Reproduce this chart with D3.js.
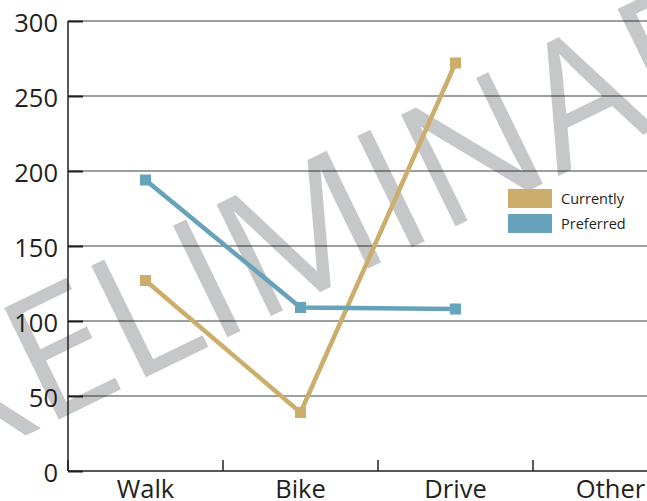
<!DOCTYPE html>
<html>
<head>
<meta charset="utf-8">
<script src="https://cdn.jsdelivr.net/npm/d3@7"></script>
<style>
  body { margin: 0; background: #fff; }
  text { font-family: "Open Sans", sans-serif; fill: #231f20; }
</style>
</head>
<body>
<svg id="chart" width="647" height="501"></svg>
<script>
const categories = ["Walk", "Bike", "Drive", "Other"];
const currently = [127, 39, 272];   // no value for Other
const preferred = [194, 109, 108];
const yTicks = [0, 50, 100, 150, 200, 250, 300];
const seriesNames = ["Currently", "Preferred"];
const seriesColors = ["#ccad6b", "#66a2b9"];
const watermark = "PRELIMINARY";

const drawChart = function (svg) {
    let width = +svg.attr("width");
    let margin = {top: 21, left: 68, bottom: 30};
    let bottom = 471;

    let xScale = d3.scaleBand()
        .domain(categories)
        .range([margin.left, margin.left + 620]);
    let yScale = d3.scaleLinear()
        .domain([0, 300])
        .range([bottom, margin.top]);

    // watermark sits under everything
    svg.append("text")
        .attr("transform", "translate(-147, 520) rotate(-26)")
        .style("font-size", "174px")
        .style("fill", "#c6c7c9")
        .text(watermark);

    // gridlines (semi-transparent so they darken over the watermark)
    yTicks.filter(t => t > 0).forEach(t => {
        svg.append("line")
            .attr("x1", margin.left).attr("x2", width)
            .attr("y1", yScale(t)).attr("y2", yScale(t))
            .style("stroke", "#000")
            .style("stroke-opacity", 0.5)
            .style("stroke-width", 1.5);
    });

    // y axis: ticks point inward, labels on the left
    let leftAxis = d3.axisRight(yScale)
        .tickValues(yTicks)
        .tickSize(15)
        .tickFormat("");
    svg.append("g")
        .attr("transform", `translate(${margin.left}, 0)`)
        .call(leftAxis)
        .call(g => g.select(".domain").remove())
        .call(g => g.selectAll("line").style("stroke", "#231f20").style("stroke-width", 2));

    svg.append("line")
        .attr("x1", margin.left).attr("x2", margin.left)
        .attr("y1", margin.top).attr("y2", bottom)
        .style("stroke", "#231f20").style("stroke-width", 1.5);

    yTicks.forEach(t => {
        svg.append("text")
            .attr("x", 58)
            .attr("y", yScale(t) + 11)
            .attr("text-anchor", "end")
            .style("font-size", "25.5px")
            .text(t);
    });

    // x axis: ticks at the band boundaries, pointing up
    svg.append("line")
        .attr("x1", margin.left).attr("x2", width)
        .attr("y1", bottom).attr("y2", bottom)
        .style("stroke", "#231f20").style("stroke-width", 1.5);

    categories.forEach(c => {
        let bx = xScale(c);
        svg.append("line")
            .attr("x1", bx).attr("x2", bx)
            .attr("y1", bottom).attr("y2", bottom - 11)
            .style("stroke", "#231f20").style("stroke-width", 1.5);
        svg.append("text")
            .attr("x", bx + xScale.bandwidth() / 2)
            .attr("y", 498)
            .attr("text-anchor", "middle")
            .style("font-size", "25.5px")
            .text(c);
    });

    // series lines + square markers
    let line = d3.line()
        .x((d, i) => xScale(categories[i]) + xScale.bandwidth() / 2)
        .y(d => yScale(d));

    [currently, preferred].forEach((values, s) => {
        svg.append("path")
            .datum(values)
            .attr("d", line)
            .style("fill", "none")
            .style("stroke", seriesColors[s])
            .style("stroke-width", 4.5);
        values.forEach((v, i) => {
            svg.append("rect")
                .attr("x", xScale(categories[i]) + xScale.bandwidth() / 2 - 5.5)
                .attr("y", yScale(v) - 5.5)
                .attr("width", 11)
                .attr("height", 11)
                .style("fill", seriesColors[s]);
        });
    });

    // legend
    seriesNames.forEach((name, s) => {
        let ly = 189 + s * 25;
        svg.append("rect")
            .attr("x", 508).attr("y", ly)
            .attr("width", 44).attr("height", 19)
            .style("fill", seriesColors[s]);
        svg.append("text")
            .attr("x", 561)
            .attr("y", ly + 14.5)
            .style("font-size", "14.5px")
            .text(name);
    });
}

drawChart(d3.select("svg#chart"));
</script>
</body>
</html>
